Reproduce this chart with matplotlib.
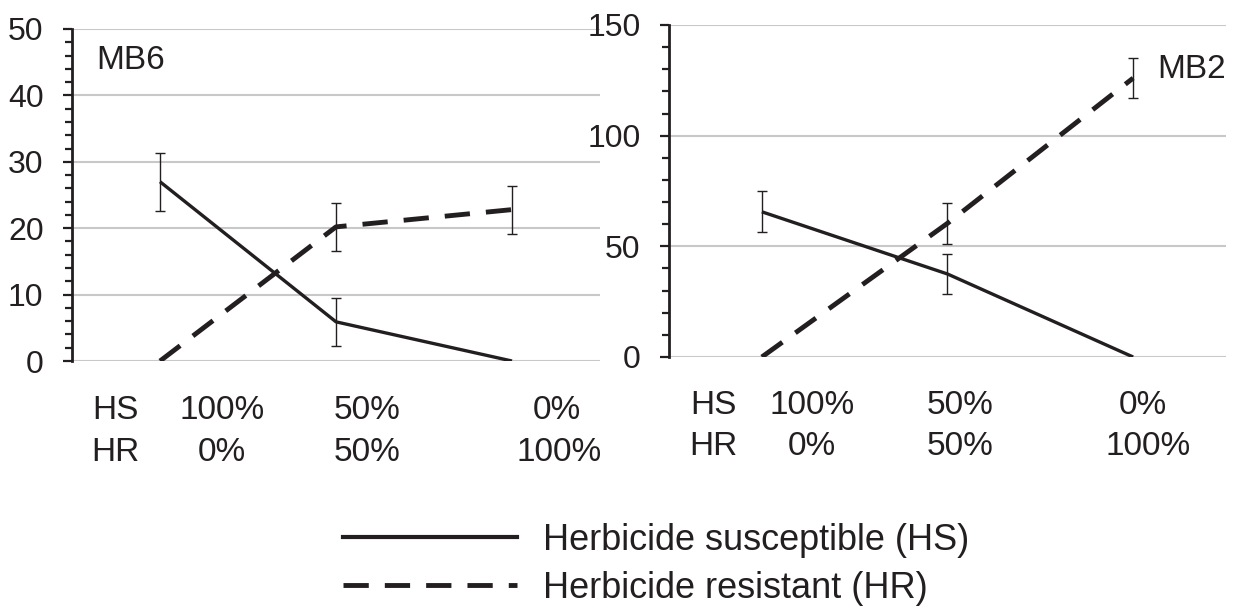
import matplotlib
matplotlib.use("Agg")
import matplotlib.pyplot as plt
import matplotlib.transforms as mtransforms
from matplotlib.lines import Line2D
from matplotlib.ticker import MultipleLocator
import numpy as np

plt.rcParams['font.family'] = ['Liberation Sans', 'DejaVu Sans']

# mixture positions: HS 100/50/0 %, HR 0/50/100 %
x = np.array([0, 1, 2])
hs_pct = ['100%', '50%', '0%']
hr_pct = ['0%', '50%', '100%']

# MB6 panel
mb6_hs = np.array([27.0, 5.9, 0.0])
mb6_hs_err = np.array([4.4, 3.65, 0.0])
mb6_hr = np.array([0.0, 20.2, 22.8])
mb6_hr_err = np.array([0.0, 3.6, 3.6])

# MB2 panel
mb2_hs = np.array([65.6, 37.5, 0.0])
mb2_hs_err = np.array([9.2, 9.0, 0.0])
mb2_hr = np.array([0.0, 60.4, 126.0])
mb2_hr_err = np.array([0.0, 9.3, 9.2])

ink = '#231f20'
grid_col = '#c8c8c8'
dash = (5.2, 3.3)
fs = 24

fig = plt.figure(figsize=(12.44, 6.09), dpi=100)
ax1 = fig.add_axes([0.0579, 0.4072, 0.4244, 0.5452])
ax2 = fig.add_axes([0.5378, 0.4138, 0.4477, 0.5452])


def draw_panel(ax, hs, hs_err, hr, hr_err, ymax, major, minor, name, name_xy,
               lab_x1, lab_x2, row_y):
    ax.plot(x, hs, color=ink, lw=2.4, solid_capstyle='butt', zorder=3)
    ax.plot(x, hr, color=ink, lw=3.5, dashes=dash, zorder=3)
    m = hs_err > 0
    ax.errorbar(x[m], hs[m], yerr=hs_err[m], fmt='none', ecolor=ink, elinewidth=1.0,
                capsize=3.6, capthick=1.0, zorder=4)
    m = hr_err > 0
    ax.errorbar(x[m], hr[m], yerr=hr_err[m], fmt='none', ecolor=ink, elinewidth=1.0,
                capsize=3.6, capthick=1.0, zorder=4)

    ax.set_xlim(-0.5, 2.5)
    ax.set_ylim(0, ymax)
    ax.yaxis.set_major_locator(MultipleLocator(major))
    ax.yaxis.set_minor_locator(MultipleLocator(minor))
    ax.grid(axis='y', color=grid_col, lw=1.5, zorder=0)
    for s in ['top', 'right', 'bottom']:
        ax.spines[s].set_visible(False)
    ax.spines['left'].set_color(ink)
    ax.spines['left'].set_linewidth(2.0)
    ax.set_xticks([])
    ax.tick_params(axis='y', which='major', length=6.5, width=1.6, color=ink,
                   labelsize=23, labelcolor=ink, pad=14)
    ax.tick_params(axis='y', which='minor', length=5, width=1.6, color=ink)
    ax.text(name_xy[0], name_xy[1], name, fontsize=fs, color=ink, ha='left', va='center')

    # two-row category labels under the axis
    tr = mtransforms.blended_transform_factory(ax.transData, ax.transAxes)
    rows = [['HS'] + hs_pct, ['HR'] + hr_pct]
    for labs, xs, yy in zip(rows, [lab_x1, lab_x2], row_y):
        for xi, t in zip(xs, labs):
            ax.text(xi, yy, t, transform=tr, fontsize=fs, color=ink,
                    ha='center', va='center', clip_on=False)


draw_panel(ax1, mb6_hs, mb6_hs_err, mb6_hr, mb6_hr_err, 50, 10, 2, 'MB6',
           (-0.36, 45.3),
           [-0.256, 0.352, 1.176, 2.256], [-0.256, 0.352, 1.176, 2.27], (-0.148, -0.277))
draw_panel(ax2, mb2_hs, mb2_hs_err, mb2_hr, mb2_hr_err, 150, 50, 10, 'MB2',
           (2.13, 129.7),
           [-0.26, 0.27, 1.07, 2.05], [-0.26, 0.27, 1.07, 2.08], (-0.145, -0.271))

handles = [Line2D([], [], color=ink, lw=3.0),
           Line2D([], [], color=ink, lw=3.5, dashes=dash)]
fig.legend(handles, ['Herbicide susceptible (HS)', 'Herbicide resistant (HR)'],
           loc='upper left', bbox_to_anchor=(343 / 1244, 0.142), frameon=False,
           fontsize=26, handlelength=4.83, handletextpad=0.72, labelspacing=0.36,
           borderpad=0, borderaxespad=0, labelcolor=ink)

fig.savefig('out.png', dpi=100)
